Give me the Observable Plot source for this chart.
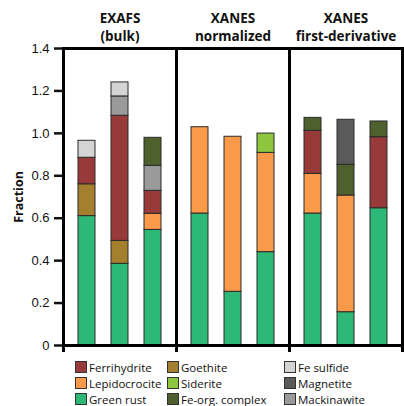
<!DOCTYPE html>
<html>
<head>
<meta charset="utf-8">
<script src="https://cdn.jsdelivr.net/npm/d3@7"></script>
<script src="https://cdn.jsdelivr.net/npm/@observablehq/plot@0.6"></script>
<style>
  html, body { margin: 0; padding: 0; background: #fff; }
  #chart svg { display: block; }
  #chart [aria-label="y-axis label"] text, #chart g[aria-label="y-axis label"] { font-weight: bold; font-family: "Open Sans", sans-serif; font-size: 12.5px; }
  .legend { position: relative; height: 54px; font-family: "Open Sans", sans-serif; font-size: 11.5px; color: #111; }
  .litem { position: absolute; height: 16px; display: flex; align-items: center; white-space: nowrap; }
  .sw { width: 10px; height: 10px; border: 1px solid #333; margin-right: 2px; flex: none; }
</style>
</head>
<body>
<div id="chart"></div>
<script>
// Panels (facets) and samples within each panel
const panels = ["EXAFS\n(bulk)", "XANES\nnormalized", "XANES\nfirst-derivative"];
const samples = ["s1", "s2", "s3"];

// Mineral components (stack order bottom -> top) and colors
const minerals = ["Green rust", "Lepidocrocite", "Goethite", "Ferrihydrite", "Siderite", "Mackinawite", "Fe-org. complex", "Magnetite", "Fe sulfide"];
const mineralColors = ["#2db877", "#f9994a", "#a47f2e", "#983a3a", "#8dc63f", "#9a9a9b", "#4f602f", "#5a5a5b", "#d4d4d5"];

// Fractions, 9 bars each: [EXAFS s1,s2,s3, XANES-norm s1,s2,s3, XANES-deriv s1,s2,s3]
const greenRust     = [0.610, 0.385, 0.545, 0.622, 0.253, 0.440, 0.622, 0.157, 0.647];
const lepidocrocite = [0,     0,     0.076, 0.407, 0.731, 0.468, 0.187, 0.550, 0];
const goethite      = [0.150, 0.108, 0,     0,     0,     0,     0,     0,     0];
const ferrihydrite  = [0.125, 0.590, 0.108, 0,     0,     0,     0.203, 0,     0.335];
const siderite      = [0,     0,     0,     0,     0,     0.091, 0,     0,     0];
const mackinawite   = [0,     0.091, 0.118, 0,     0,     0,     0,     0,     0];
const feOrgComplex  = [0,     0,     0.132, 0,     0,     0,     0.061, 0.145, 0.074];
const magnetite     = [0,     0,     0,     0,     0,     0,     0,     0.212, 0];
const feSulfide     = [0.080, 0.066, 0,     0,     0,     0,     0,     0,     0];

// Y axis ticks
const yTicks = [0, 0.2, 0.4, 0.6, 0.8, 1.0, 1.2, 1.4];
const yTickLabels = ["0", "0.2", "0.4", "0.6", "0.8", "1.0", "1.2", "1.4"];

const series = [greenRust, lepidocrocite, goethite, ferrihydrite, siderite, mackinawite, feOrgComplex, magnetite, feSulfide];
const rows = [];
panels.forEach((p, pi) => samples.forEach((s, si) => minerals.forEach((m, mi) => {
  const v = series[mi][pi * 3 + si];
  if (v > 0) rows.push({panel: p, sample: s, mineral: m, value: v});
})));

const chart = Plot.plot({
  width: 404,
  height: 352,
  marginTop: 48,
  marginBottom: 7,
  marginLeft: 62,
  marginRight: 2,
  style: {fontFamily: "'Liberation Sans', Arial, sans-serif", fontSize: "13px", color: "#111"},
  fx: {domain: panels, axis: null, padding: 0},
  x: {domain: samples, axis: null, paddingInner: 0.47, paddingOuter: 0.4},
  y: {domain: [0, 1.4]},
  color: {domain: minerals, range: mineralColors},
  marks: [
    Plot.barY(rows, {
      fx: "panel", x: "sample", y: "value", fill: "mineral",
      order: minerals, stroke: "#2a2a2a", strokeWidth: 1
    }),
    Plot.frame({stroke: "#000", strokeWidth: 3}),
    Plot.frame({anchor: "left", stroke: "#000", strokeWidth: 3, insetBottom: -8}),
    Plot.frame({anchor: "right", stroke: "#000", strokeWidth: 3, insetBottom: -8}),
    Plot.axisY({
      ticks: yTicks,
      tickFormat: (d) => yTickLabels[yTicks.indexOf(+d.toFixed(1))] ?? d,
      tickSize: 9, tickPadding: 5, strokeWidth: 2.5,
      label: "Fraction", labelAnchor: "center", labelOffset: 49, labelArrow: "none"
    }),
    Plot.text(panels, {
      fx: (d) => d, text: (d) => d,
      frameAnchor: "top", lineAnchor: "bottom", dy: -8,
      fontWeight: "bold", fontSize: 13.5, lineHeight: 1.3,
      fontFamily: "'Open Sans', sans-serif", fill: "#111"
    })
  ]
});
document.getElementById("chart").appendChild(chart);

// Legend
const legend = document.createElement("div");
legend.className = "legend";
const colLeft = [75, 167, 284];
const legendCols = [
  ["Ferrihydrite", "Lepidocrocite", "Green rust"],
  ["Goethite", "Siderite", "Fe-org. complex"],
  ["Fe sulfide", "Magnetite", "Mackinawite"]
];
legendCols.forEach((col, ci) => col.forEach((name, ri) => {
  const item = document.createElement("div");
  item.className = "litem";
  item.style.left = colLeft[ci] + "px";
  item.style.top = (7 + ri * 16) + "px";
  const sw = document.createElement("span");
  sw.className = "sw";
  sw.style.background = mineralColors[minerals.indexOf(name)];
  const t = document.createElement("span");
  t.textContent = name;
  item.appendChild(sw); item.appendChild(t);
  legend.appendChild(item);
}));
document.getElementById("chart").appendChild(legend);
</script>
</body>
</html>
